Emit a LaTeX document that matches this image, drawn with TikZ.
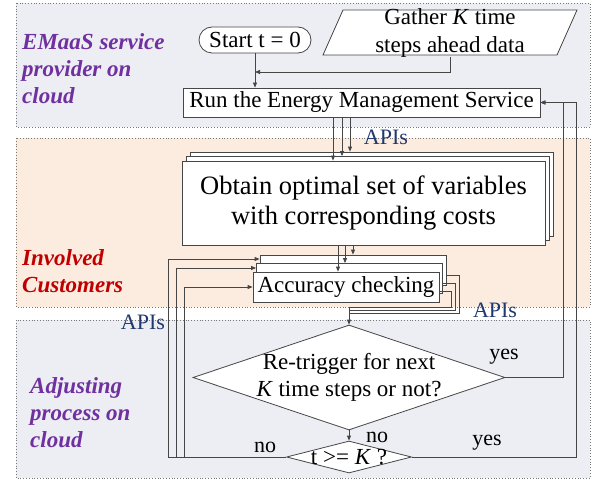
\documentclass[tikz,border=0pt]{standalone}
\usepackage{fontspec}
\setmainfont{Liberation Serif}
\usetikzlibrary{arrows.meta,positioning,calc,shapes.geometric}
\definecolor{cloudbg}{RGB}{236,238,243}
\definecolor{custbg}{RGB}{252,236,224}
\definecolor{frame}{RGB}{120,120,120}
\definecolor{ink}{RGB}{70,70,70}
\definecolor{purp}{RGB}{112,48,160}
\definecolor{crim}{RGB}{192,0,0}
\definecolor{navy}{RGB}{31,56,110}
\tikzset{
  zone/.style={draw=frame,dotted,line width=0.8pt},
  zlabel/.style={anchor=west,align=left,inner sep=0pt,font=\fontsize{23}{27}\selectfont\bfseries\itshape},
  box/.style={draw=ink,fill=white,inner sep=0pt,align=center,line width=0.8pt,font=\fontsize{23}{27}\selectfont},
  dec/.style={diamond,draw=ink,fill=white,align=center,line width=0.8pt,font=\fontsize{23}{27}\selectfont},
  wire/.style={draw=ink,line width=0.8pt},
  arr/.style={wire,-{Triangle[length=5pt,width=4pt]}},
  api/.style={text=navy,inner sep=0pt,font=\fontsize{22}{26}\selectfont},
  yn/.style={inner sep=0pt,font=\fontsize{22}{26}\selectfont},
}
\begin{document}
\begin{tikzpicture}[x=1pt,y=-1pt]
  \useasboundingbox (0,0) rectangle (597,481);
  % three zones
  \draw[zone,fill=cloudbg] (16,3) rectangle (590,127);
  \draw[zone,fill=custbg] (16,138) rectangle (590,307);
  \draw[zone,fill=cloudbg] (16,320) rectangle (590,478);
  \node[zlabel,text=purp] (zEM) at (22,69) {EMaaS service\\provider on\\cloud};
  \node[zlabel,text=crim] (zIC) at (22,271) {Involved\\Customers};
  \node[zlabel,text=purp] (zAP) at (30,413) {Adjusting\\process on\\cloud};

  % service provider
  \node[box,rounded corners=13pt,minimum width=112pt,minimum height=26pt] (start) at (255,40) {Start t = 0};
  \draw[wire,fill=white] (323,55) -- (343,10) -- (577,10) -- (557,55) -- cycle;
  \node[inner sep=0pt,minimum height=45pt,align=center,font=\fontsize{23}{28}\selectfont] (gather) at (450,32.5) {Gather \textit{K} time\\steps ahead data};
  \node[box,minimum width=357pt,minimum height=29pt] (run) at (361.5,102.5) {Run the Energy Management Service};
  \draw[arr] (start.south) -- (start.south |- run.north);
  \draw[arr] (gather.south) |- (start.south |- 0,72);

  % customers, stacked
  \coordinate (optc) at (363.5,203);
  \node[box,minimum width=363pt,minimum height=84pt] (opt3) at ($(optc)+(8,-9)$) {};
  \node[box,minimum width=363pt,minimum height=84pt] (opt2) at ($(optc)+(4,-4.5)$) {};
  \node[box,minimum width=363pt,minimum height=84pt,font=\fontsize{26.5}{30}\selectfont] (opt1) at (optc) {Obtain optimal set of variables\\with corresponding costs};
  \coordinate (accc) at (346,287);
  \node[box,minimum width=186pt,minimum height=30pt] (acc3) at ($(accc)+(7,-17)$) {};
  \node[box,minimum width=186pt,minimum height=30pt] (acc2) at ($(accc)+(3.5,-8.5)$) {};
  \node[box,minimum width=186pt,minimum height=30pt] (acc1) at (accc) {Accuracy checking};
  \foreach \dx/\tgt in {333/opt1,342/opt2,350/opt3}
    \draw[arr] (run.south -| \dx,0) -- (\tgt.north -| \dx,0);
  \foreach \dx/\tgt in {338/acc1,345/acc2,353/acc3}
    \draw[arr] (opt1.south -| \dx,0) -- (\tgt.north -| \dx,0);
  \node[api] (api1) at (386,137) {APIs};

  % adjusting process
  \node[dec,minimum width=312pt,minimum height=105pt,inner xsep=-10pt,inner ysep=-5pt,aspect=3] (re) at (349,377.5) {Re-trigger for next\\\textit{K} time steps or not?};
  \node[dec,minimum width=125pt,minimum height=32pt,inner xsep=-20pt,inner ysep=-6pt,aspect=4] (chk) at (349,457) {t >= \textit{K} ?};
  \coordinate (merge) at (re.north |- 0,307);
  \foreach \ey/\ex/\hy/\tgt in {291/451/307/acc1,283/455/310/acc2,275/459/313/acc3}
    \draw[wire] (\tgt.east |- 0,\ey) -- (\ex,\ey) |- (re.north |- 0,\hy);
  \draw[arr] (merge) -- (re.north);
  \draw[arr] (re.south) -- (chk.north);
  \foreach \lx/\ly/\tgt in {168/259/acc3,176/268/acc2,184/287/acc1}
    \draw[arr] (chk.west) -| (\lx,\ly) -- (\tgt.west |- 0,\ly);
  \draw[arr] (re.east) -- (re.east -| 563,0) |- (run.east);
  \draw[arr] (chk.east) -- (chk.east -| 576,0) |- (run.east);
  \node[api] (api2) at (495,310) {APIs};
  \node[api] (api3) at (143,322) {APIs};
  \node[yn] (yes1) at (504,357) {yes};
  \node[yn] (yes2) at (487,443) {yes};
  \node[yn] (no1) at (377,437) {no};
  \node[yn] (no2) at (265,447) {no};
\end{tikzpicture}
\end{document}
